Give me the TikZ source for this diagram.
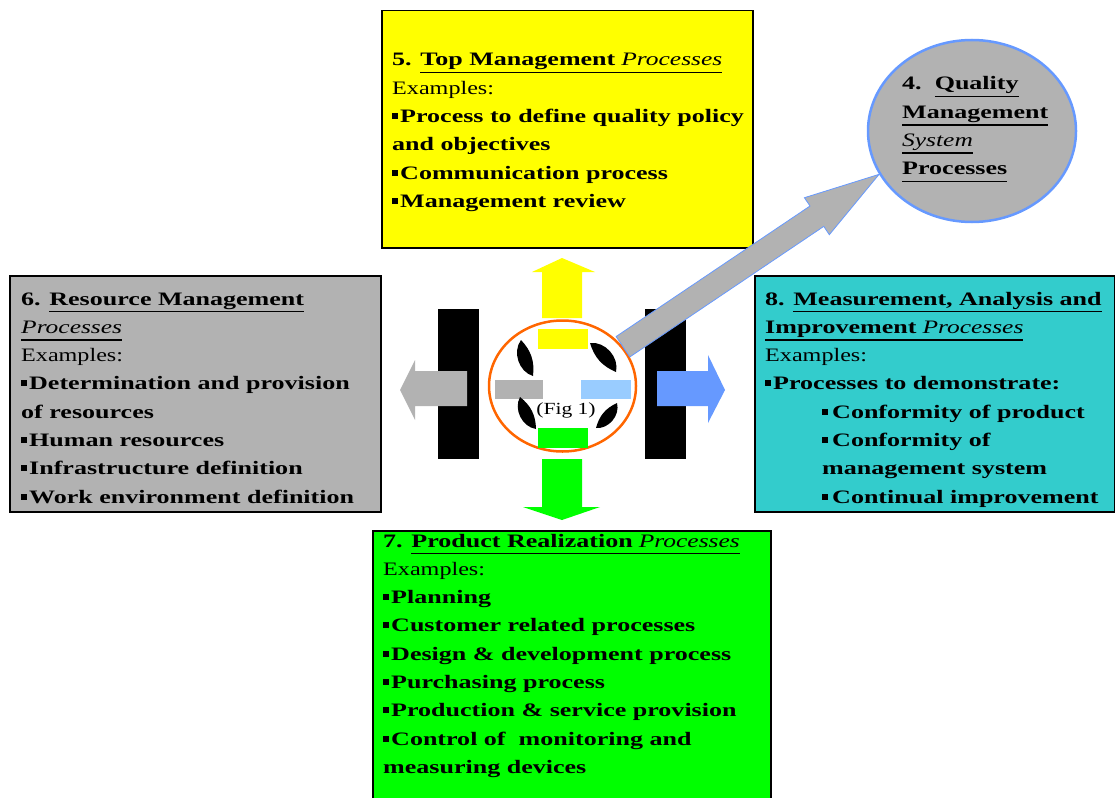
\documentclass[tikz,border=0pt]{standalone}
\usepackage{fontspec}
\setmainfont{Liberation Serif}[UprightFeatures={FakeStretch=1.27},ItalicFeatures={FakeStretch=1.34},BoldFeatures={FakeStretch=1.37},BoldItalicFeatures={FakeStretch=1.37}]
\usetikzlibrary{shapes.geometric,calc}
\definecolor{qyellow}{HTML}{FFFF00}
\definecolor{qgrey}{HTML}{B2B2B2}
\definecolor{qteal}{HTML}{33CCCC}
\definecolor{qgreen}{HTML}{00FF00}
\definecolor{qblue}{HTML}{6699FF}
\definecolor{qlblue}{HTML}{99CCFF}
\definecolor{qorange}{HTML}{FF6600}
\newcommand\bul{\rule[3.5pt]{6pt}{6pt}\hspace{2pt}}
\newcommand\myul[1]{\vtop{\hbox{#1\rule[-4.5pt]{0pt}{1pt}}\kern1.2pt\hrule height 1.7pt}}
\begin{document}
\begin{tikzpicture}[x=1pt,y=-1pt,
  box/.style={draw=black,line width=1.5pt,anchor=north west,inner sep=0pt},
  txt/.style={anchor=base west,inner sep=0pt,font=\fontsize{19}{28.3}\selectfont},
  blob/.style={fill=black}]
\path[use as bounding box] (0,0) rectangle (1115,797);
\clip (0,0) rectangle (1115,797);
% boxes
\node[box,fill=qyellow,minimum width=371pt,minimum height=237pt] (b5) at (381,10) {};
\node[box,fill=qgrey,minimum width=371pt,minimum height=236pt] (b6) at (9,275) {};
\node[box,fill=qteal,minimum width=360pt,minimum height=236pt] (b8) at (754,275) {};
\node[box,fill=qgreen,minimum width=398pt,minimum height=290pt] (b7) at (372,530) {};
% black bars
\fill[black] (438,309) rectangle (479,459);
\fill[black] (645,309) rectangle (686,459);
% centre circle
\node[ellipse,draw=qorange,line width=2.5pt,fill=white,minimum width=147pt,minimum height=131pt,inner sep=0pt] (c) at (562.5,386) {};
\fill[qyellow] (538,329) rectangle (588,349);
\fill[qgrey] (495,380) rectangle (543,399);
\fill[qlblue] (581,380) rectangle (631,399);
\fill[qgreen] (538,428) rectangle (588,448);
% side arrows
\fill[qgrey] (467,371) -- (415,371) -- (415,360) -- (400,390) -- (415,420) -- (415,406) -- (467,406) -- cycle;
\fill[qblue] (657,371) -- (708,371) -- (708,355) -- (725,390) -- (708,423) -- (708,406) -- (657,406) -- cycle;
\fill[qyellow] (542,318) -- (542,272) -- (532,272) -- (562,258) -- (595,272) -- (582,272) -- (582,318) -- cycle;
\fill[qgreen] (542,459) -- (542,507) -- (523,507) -- (562,520) -- (600,507) -- (582,507) -- (582,459) -- cycle;
% curved black blobs
\foreach \xa/\ya/\xb/\yb in {533/376/521/340, 590/343/616/372, 617/403/596/428, 536/429/520/397}{
  \fill[blob] (\xa,\ya) to[bend left=55] (\xb,\yb) to[bend left=25] (\xa,\ya) -- cycle;
}
\node[anchor=base,inner sep=0pt,font=\fontsize{17}{20}\selectfont] (fig) at (566,414) {(Fig 1)};
% quality ellipse
\node[ellipse,draw=qblue,line width=2.5pt,fill=qgrey,minimum width=208pt,minimum height=182pt,inner sep=0pt] (q) at (972,131) {};
% big arrow
\coordinate (A) at (c.33);
\coordinate (B) at (q.205);
\coordinate (H) at ($(B)!75pt!(A)$);
\filldraw[fill=qgrey,draw=qblue,line width=0.8pt]
  ($(A)!12.3pt!90:(B)$) -- ($(H)!12.3pt!90:(B)$) -- ($(H)!22.3pt!90:(B)$) -- (B)
  -- ($(H)!22.3pt!-90:(B)$) -- ($(H)!12.3pt!-90:(B)$) -- ($(A)!12.3pt!-90:(B)$) -- cycle;
% texts
\node[txt] (t5) at (392,66) {\vtop{%
\hbox{\textbf{5. }\myul{\textbf{Top Management} \textit{Processes}}}
\hbox{Examples:}
\hbox{\bul\textbf{Process to define quality policy}}
\hbox{\textbf{and objectives}}
\hbox{\bul\textbf{Communication process}}
\hbox{\bul\textbf{Management review}}}};
\node[txt] (t6) at (21,305) {\vtop{%
\hbox{\textbf{6. }\myul{\textbf{Resource Management}}}
\hbox{\myul{\textit{Processes}}}
\hbox{Examples:}
\hbox{\bul\textbf{Determination and provision}}
\hbox{\textbf{of resources}}
\hbox{\bul\textbf{Human resources}}
\hbox{\bul\textbf{Infrastructure definition}}
\hbox{\bul\textbf{Work environment definition}}}};
\node[txt] (t8) at (765,305) {\vtop{%
\hbox{\textbf{8. }\myul{\textbf{Measurement, Analysis and}}}
\hbox{\myul{\textbf{Improvement} \textit{Processes}}}
\hbox{Examples:}
\hbox{\bul\textbf{Processes to demonstrate:}}
\hbox{\hspace*{57pt}\bul\hspace{2pt}\textbf{Conformity of product}}
\hbox{\hspace*{57pt}\bul\hspace{2pt}\textbf{Conformity of}}
\hbox{\hspace*{57pt}\textbf{management system}}
\hbox{\hspace*{57pt}\bul\hspace{2pt}\textbf{Continual improvement}}}};
\node[txt] (t7) at (383,547) {\vtop{%
\hbox{\textbf{7. }\myul{\textbf{Product Realization} \textit{Processes}}}
\hbox{Examples:}
\hbox{\bul\textbf{Planning}}
\hbox{\bul\textbf{Customer related processes}}
\hbox{\bul\textbf{Design \& development process}}
\hbox{\bul\textbf{Purchasing process}}
\hbox{\bul\textbf{Production \& service provision}}
\hbox{\bul\textbf{Control of \ monitoring and}}
\hbox{\textbf{measuring devices}}}};
\node[txt] (t4) at (902,90) {\vtop{%
\hbox{\textbf{4.\ \ }\myul{\textbf{Quality}}}
\hbox{\myul{\textbf{Management}}}
\hbox{\myul{\textit{System}}}
\hbox{\myul{\textbf{Processes}}}}};
\end{tikzpicture}
\end{document}
